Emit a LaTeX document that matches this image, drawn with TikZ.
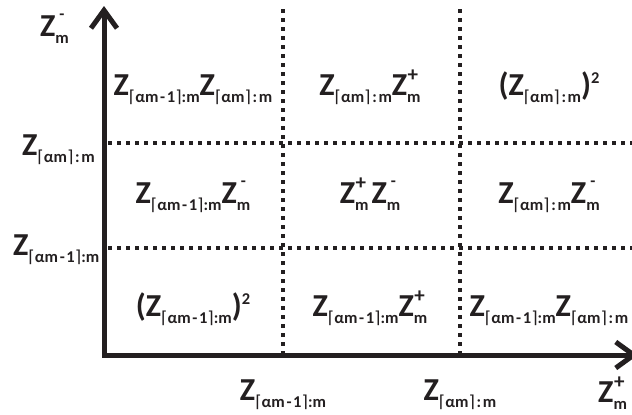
\documentclass[tikz,border=0pt]{standalone}
\usepackage{fontspec}
\setmainfont{Carlito}
\newfontfamily\ceilfont{DejaVu Sans}
\usetikzlibrary{arrows.meta}
\definecolor{ink}{HTML}{231F20}
\newcommand\bigsz{\fontsize{32}{36}\selectfont\bfseries}
\newcommand\smsz{\fontsize{16.5}{19}\selectfont\bfseries}
\newcommand\plsz{\fontsize{21}{22}\selectfont\bfseries}
\newcommand\lc{{\ceilfont\mdseries ⌈}}
\newcommand\rc{{\ceilfont\mdseries ⌉}}
\newcommand\subA{\lc αm\kern0.1em-\kern0.1em1\rc:m}
\newcommand\subB{\lc αm\rc\kern0.1em:\kern0.1em m}
\newcommand\Zsub[1]{Z\raisebox{-7pt}{\smsz #1}}
\newcommand\Zpm[2]{Z\makebox[0pt][l]{\raisebox{#2}{#1}}\raisebox{-7pt}{\smsz m}}
\newcommand\Zp{\Zpm{\plsz\kern0.5pt+}{14pt}}
\newcommand\Zm{\Zpm{\smsz\kern4pt-}{17pt}}
\newcommand\sqr{\raisebox{12pt}{\smsz 2}}
\tikzset{
  lbl/.style={inner sep=0pt, text=ink, font=\bigsz, anchor=base},
  axis/.style={draw=ink, line width=5pt, line join=miter,
    {Straight Barb[length=18pt,width=26pt]}-{Straight Barb[length=18pt,width=26pt]}},
  dotline/.style={draw=ink, line width=3.5pt, dash pattern=on 3.5pt off 5.5pt}
}
\begin{document}
\begin{tikzpicture}[x=1pt,y=-1pt]
\useasboundingbox (0,0) rectangle (632,415);
% grid
\coordinate (v1t) at (283,9);  \coordinate (v1b) at (283,353);
\coordinate (v2t) at (460,9);  \coordinate (v2b) at (460,353);
\coordinate (h1l) at (108,143); \coordinate (h1r) at (632,143);
\coordinate (h2l) at (108,248); \coordinate (h2r) at (632,248);
\draw[dotline] (v1t) -- (v1b);
\draw[dotline] (v2t) -- (v2b);
\draw[dotline] (h1l) -- (h1r);
\draw[dotline] (h2l) -- (h2r);
% axes
\coordinate (O) at (104,355);
\coordinate (ytip) at (104,6);
\coordinate (xtip) at (638,355);
\draw[axis] (ytip) -- (O) -- (xtip);
% cells
\node[lbl] (c11) at (193,95) {\Zsub{\subA}\Zsub{\subB}};
\node[lbl] (c12) at (370,95) {\Zsub{\subB}\Zp};
\node[lbl] (c13) at (549,95) {(\Zsub{\subB})\sqr};
\node[lbl] (c21) at (193,203) {\Zsub{\subA}\Zm};
\node[lbl] (c22) at (370,203) {\Zp\kern3pt\Zm};
\node[lbl] (c23) at (549,203) {\Zsub{\subB}\Zm};
\node[lbl] (c31) at (193,316) {(\Zsub{\subA})\sqr};
\node[lbl] (c32) at (370,316) {\Zsub{\subA}\Zp};
\node[lbl] (c33) at (549,316) {\Zsub{\subA}\Zsub{\subB}};
% axis labels
\node[lbl, anchor=base west] (ym) at (40,36) {\Zm};
\node[lbl, anchor=base west] (yb) at (22,155) {\Zsub{\subB}};
\node[lbl, anchor=base west] (ya) at (13,255) {\Zsub{\subA}};
\node[lbl] (xa) at (283,400) {\Zsub{\subA}};
\node[lbl] (xb) at (460,400) {\Zsub{\subB}};
\node[lbl, anchor=base west] (xp) at (598,402) {\Zp};
\end{tikzpicture}
\end{document}
